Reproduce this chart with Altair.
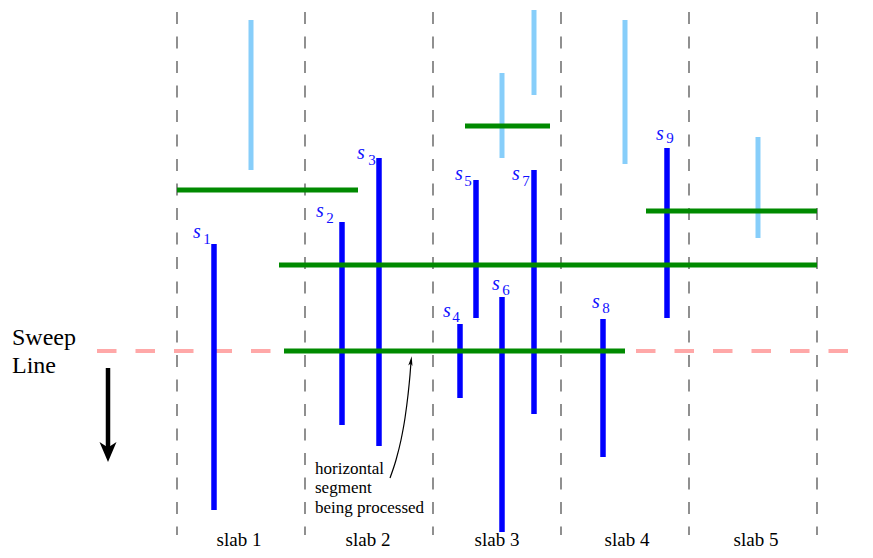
import altair as alt
import pandas as pd

# ---- data (diagram coordinates) ----
slab_x = [177, 305, 433, 561, 689, 817]
slab_y1 = [12] * 6
slab_y2 = [535] * 6

slab_names = ["slab 1", "slab 2", "slab 3", "slab 4", "slab 5"]
slab_label_x = [239, 368, 497, 627, 756]

seg_num = ["1", "2", "3", "4", "5", "6", "7", "8", "9"]
seg_x = [214, 342, 379, 460, 476, 502, 534, 603, 667]
seg_top = [244, 222, 158, 324, 180, 297, 170, 319, 148]
seg_bottom = [510, 425, 446, 398, 318, 532, 414, 457, 318]

lab_s_x = [197, 320, 361, 447, 459, 496, 516, 596, 660]
lab_s_y = [238, 217, 159, 317, 180, 290, 180, 308, 140]
lab_n_x = [207, 330, 372, 456, 468, 506, 526, 606, 670]
lab_n_y = [244, 223, 165, 322, 186, 295, 186, 313, 143]

lb_x = [251, 502, 534, 625, 758]
lb_top = [20, 73, 10, 20, 137]
lb_bottom = [170, 158, 95, 164, 238]

green_y = [190, 126, 211, 265, 351]
green_x1 = [177, 465, 646, 279, 284]
green_x2 = [358, 550, 817, 817, 625]

sweep_y = 351
sweep_x1, sweep_x2 = 97, 873

arrow_x = 108
arrow_top, arrow_tip = 368, 462

curve_x = [390, 396, 401, 405, 408, 410, 411]
curve_y = [478, 460, 440, 418, 395, 375, 362]

note_lines = ["horizontal", "segment", "being processed"]
note_x = 315
note_y = [474, 493, 513]

sweep_words = ["Sweep", "Line"]
sweep_text_y = [345, 373]

# ---- scales ----
xs = alt.Scale(domain=[8, 865], nice=False, zero=False)
ys = alt.Scale(domain=[8, 550], nice=False, zero=False, reverse=True)
X = lambda f: alt.X(f, type="quantitative", scale=xs, axis=None)
Y = lambda f: alt.Y(f, type="quantitative", scale=ys, axis=None)

SERIF = "Liberation Serif"

slabs = alt.Chart(pd.DataFrame({"x": slab_x, "y": slab_y1, "y2": slab_y2})).mark_rule(
    color="#555555", strokeWidth=1.3, strokeDash=[12, 12.5]
).encode(x=X("x"), y=Y("y"), y2="y2")

sweep = alt.Chart(pd.DataFrame({"x": [sweep_x1], "x2": [sweep_x2], "y": [sweep_y]})).mark_rule(
    color="#FFA8A8", strokeWidth=4, strokeDash=[19.5, 19]
).encode(x=X("x"), x2="x2", y=Y("y"))

light = alt.Chart(pd.DataFrame({"x": lb_x, "y": lb_top, "y2": lb_bottom})).mark_rule(
    color="#87CEFA", strokeWidth=5
).encode(x=X("x"), y=Y("y"), y2="y2")

segs = alt.Chart(pd.DataFrame({"x": seg_x, "y": seg_top, "y2": seg_bottom})).mark_rule(
    color="#0000FF", strokeWidth=5.5
).encode(x=X("x"), y=Y("y"), y2="y2")

greens = alt.Chart(pd.DataFrame({"x": green_x1, "x2": green_x2, "y": green_y})).mark_rule(
    color="#008A00", strokeWidth=5
).encode(x=X("x"), x2="x2", y=Y("y"))

lab_s = alt.Chart(pd.DataFrame({"x": lab_s_x, "y": lab_s_y, "t": ["s"] * 9})).mark_text(
    font=SERIF, fontSize=20, fontStyle="italic", color="#1010FF", baseline="alphabetic", align="center"
).encode(x=X("x"), y=Y("y"), text="t:N")

lab_n = alt.Chart(pd.DataFrame({"x": lab_n_x, "y": lab_n_y, "t": seg_num})).mark_text(
    font=SERIF, fontSize=15, color="#1010FF", baseline="alphabetic", align="center"
).encode(x=X("x"), y=Y("y"), text="t:N")

slab_labels = alt.Chart(pd.DataFrame({"x": slab_label_x, "y": [546] * 5, "t": slab_names})).mark_text(
    font=SERIF, fontSize=19, color="black", baseline="alphabetic", align="center"
).encode(x=X("x"), y=Y("y"), text="t:N")

sweep_text = alt.Chart(pd.DataFrame({"x": [12, 12], "y": sweep_text_y, "t": sweep_words})).mark_text(
    font=SERIF, fontSize=24, color="black", baseline="alphabetic", align="left"
).encode(x=X("x"), y=Y("y"), text="t:N")

arrow_shaft = alt.Chart(pd.DataFrame({"x": [arrow_x], "y": [arrow_top], "y2": [arrow_tip - 10]})).mark_rule(
    color="black", strokeWidth=4.5
).encode(x=X("x"), y=Y("y"), y2="y2")

arrow_head = alt.Chart(pd.DataFrame({"x": [arrow_x], "y": [arrow_tip - 10]})).mark_point(
    shape="M0,1L-0.85,-1L0,-0.45L0.85,-1Z", size=400, filled=True, color="black", opacity=1
).encode(x=X("x"), y=Y("y"))

curve = alt.Chart(pd.DataFrame({"x": curve_x, "y": curve_y, "o": list(range(len(curve_x)))})).mark_line(
    color="black", strokeWidth=1.2, interpolate="monotone"
).encode(x=X("x"), y=Y("y"), order="o:Q")

curve_head = alt.Chart(pd.DataFrame({"x": [curve_x[-1]], "y": [curve_y[-1] - 1]})).mark_point(
    shape="M0,-1L0.45,1L0,0.55L-0.45,1Z", size=90, filled=True, color="black", opacity=1, angle=8
).encode(x=X("x"), y=Y("y"))

note = alt.Chart(pd.DataFrame({"x": [note_x] * 3, "y": note_y, "t": note_lines})).mark_text(
    font=SERIF, fontSize=17, color="black", baseline="alphabetic", align="left"
).encode(x=X("x"), y=Y("y"), text="t:N")

chart = alt.layer(
    slabs, sweep, light, segs, greens, lab_s, lab_n, slab_labels, sweep_text,
    arrow_shaft, arrow_head, curve, curve_head, note
).properties(
    width=857, height=542, padding=0, autosize="none", background="white"
).configure_view(stroke=None)

chart.save("out.html", embed_options={"renderer": "svg", "actions": False})
